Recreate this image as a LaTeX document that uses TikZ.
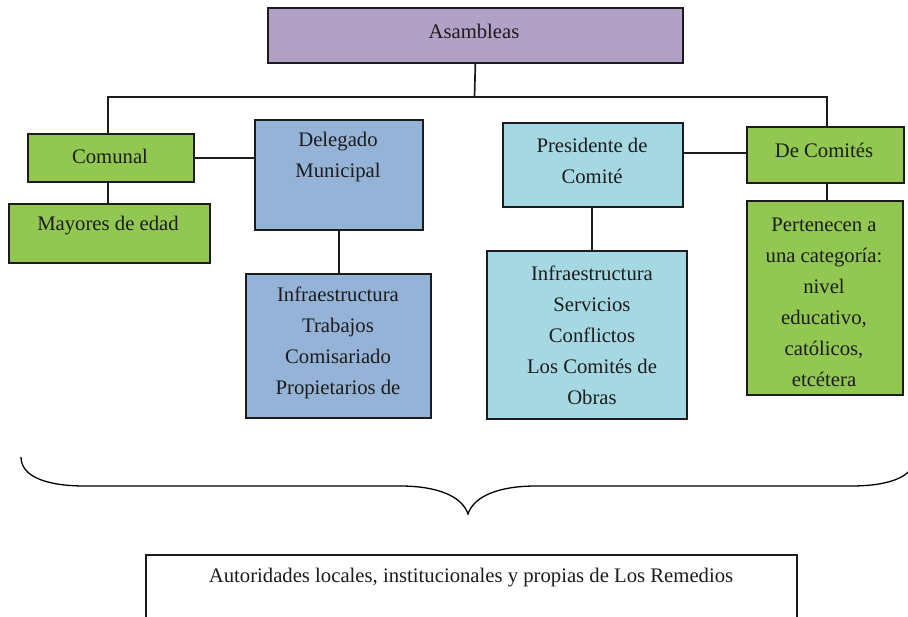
\documentclass[tikz,border=0pt]{standalone}
\usepackage{fontspec}
\setmainfont{Liberation Serif}
\definecolor{purp}{RGB}{178,161,199}
\definecolor{grn}{RGB}{146,200,82}
\definecolor{blu}{RGB}{149,179,215}
\definecolor{cyn}{RGB}{166,216,228}
\definecolor{ink}{RGB}{28,28,28}
\begin{document}
\begin{tikzpicture}[x=1bp,y=-1bp,
  boxstyle/.style={draw=ink, line width=1.7bp, rectangle, inner sep=0pt, anchor=north west},
  txt/.style={font=\fontsize{20.7bp}{31bp}\selectfont, text=ink, align=center, inner sep=0pt},
  conn/.style={draw=ink, line width=1.7bp},
  bracestyle/.style={draw=black, line width=1.3bp}]
\useasboundingbox (0,0) rectangle (908,617);
% boxes
\node[boxstyle, fill=purp, minimum width=415bp, minimum height=55bp] (asam) at (267,7) {};
\node[boxstyle, fill=grn, minimum width=166bp, minimum height=48bp] (comunal) at (27,133) {};
\node[boxstyle, fill=grn, minimum width=201bp, minimum height=59bp] (mayores) at (8,203) {};
\node[boxstyle, fill=blu, minimum width=168bp, minimum height=110bp] (deleg) at (254,119) {};
\node[boxstyle, fill=blu, minimum width=185bp, minimum height=144bp] (linfra) at (245,273) {};
\node[boxstyle, fill=cyn, minimum width=180bp, minimum height=84bp] (pres) at (502,122) {};
\node[boxstyle, fill=cyn, minimum width=200bp, minimum height=168bp] (rinfra) at (486,250) {};
\node[boxstyle, fill=grn, minimum width=157bp, minimum height=56bp] (decom) at (746,126) {};
\node[boxstyle, fill=grn, minimum width=156bp, minimum height=194bp] (pert) at (746,200) {};
\node[boxstyle, fill=white, minimum width=651bp, minimum height=90bp] (auto) at (145,554) {};
% texts
\node[txt] (tasam) at (474,31) {Asambleas};
\node[txt] (tcom) at (110,156) {Comunal};
\node[txt] (tmay) at (108,226) {Mayores de edad};
\node[txt] (tdel) at (338,157) {Delegado\\Municipal};
\node[txt] (tlin) at (338,343) {Infraestructura\\Trabajos\\Comisariado\\Propietarios de};
\node[txt] (tpres) at (592,161) {Presidente de\\Comité};
\node[txt] (trin) at (592,335) {Infraestructura\\Servicios\\Conflictos\\Los Comités de\\Obras};
\node[txt] (tdec) at (824,150) {De Comités};
\node[txt] (tper) at (824,302) {Pertenecen a\\una categoría:\\nivel\\educativo,\\católicos,\\etcétera};
\node[txt] (tauto) at (471,578) {Autoridades locales, institucionales y propias de Los Remedios};
% connectors
\coordinate (j) at (474.5,97);
\draw[conn] (asam.south) -- (j);
\draw[conn] ([xshift=-3bp]comunal.north) |- (j) -| ([xshift=1.5bp]decom.north);
\draw[conn] (comunal.east) -- (comunal.east -| deleg.west);
\draw[conn] ([xshift=-3bp]comunal.south) -- ([xshift=-3bp]comunal.south |- mayores.north);
\draw[conn] (deleg.south) -- (deleg.south |- linfra.north);
\draw[conn] ([xshift=-1bp]pres.south) -- ([xshift=-1bp]pres.south |- rinfra.north);
\draw[conn] ([yshift=2bp]decom.west) -- ([yshift=2bp]decom.west -| pres.east);
\draw[conn] ([xshift=1.5bp]decom.south) -- ([xshift=1.5bp]decom.south |- pert.north);
% brace
\coordinate (bl) at (21,457);
\coordinate (tip) at (468,514);
\coordinate (br) at (915,457);
\draw[bracestyle] (bl) .. controls (21,476) and (45,486) .. (85,486) -- (400,486)
  .. controls (437,486) and (462,496) .. (tip)
  .. controls (474,496) and (499,486) .. (536,486) -- (851,486)
  .. controls (891,486) and (915,476) .. (br);
\end{tikzpicture}
\end{document}
